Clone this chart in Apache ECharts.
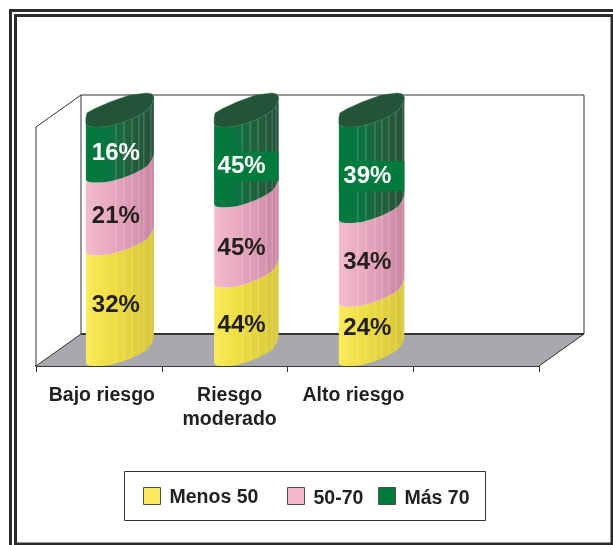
<!DOCTYPE html>
<html><head><meta charset="utf-8">
<style>html,body{margin:0;padding:0;background:#fff}#c{width:613px;height:545px}</style>
<script src="https://cdn.jsdelivr.net/npm/echarts@6/dist/echarts.min.js"></script>
</head><body><div id="c"></div>
<script>
const categories = ['Bajo riesgo', 'Riesgo\nmoderado', 'Alto riesgo', ''];
const menos50 = [32, 44, 24];
const entre50y70 = [21, 45, 34];
const mas70 = [16, 45, 39];
const seriesNames = ['Menos 50', '50-70', 'Más 70'];

const allValues = [menos50, entre50y70, mas70];
const FONT = '"Liberation Sans", Arial, sans-serif';
const DEPTH_X = 45, DEPTH_Y = -32;
const BAR_LEFT = [-13, -10.5, -11.5], BAR_W = [68, 64.5, 65.5], BASE_W = 68;
const curve = [[0,-3],[1,-1.5],[3,-.5],[7,0],[15,0],[24,-1],[35,-4],[46,-8],[56,-13],[62,-17],[66,-23],[68,-28]];
const capTop = [[68,-30],[66,-33],[61,-34],[44,-32],[24,-25],[8,-18],[1,-14],[0,-9]];
const ribs = [[30,38,46,53,58,65],[28,36,44,52,58,62],[19,27,36,43,50,57,64]];
const bandCats = [1, 2];
const labelNudge = [[-5,-2,-1],[-1,1,-1],[-8,-3,1]];
const fills = [
  [[0,'#fbeb5e'],[.4,'#eddc42'],[1,'#d6c63a']],
  [[0,'#f3bccd'],[.5,'#e3a2bb'],[1,'#c9859f']],
  [[0,'#007a3d'],[.35,'#0a7440'],[.55,'#1c663d'],[.85,'#23573a'],[1,'#24503a']]
];
const flat = ['#fbe95f', '#f2b8cb', '#007a3d'];

function curveY(dx) {
  for (let i = 1; i < curve.length; i++) {
    if (dx <= curve[i][0]) {
      const a = curve[i-1], b = curve[i];
      return a[1] + (b[1]-a[1]) * (dx-a[0]) / (b[0]-a[0]);
    }
  }
  return curve[curve.length-1][1];
}
function gradient(stops) {
  return {type:'linear',x:0,y:0,x2:1,y2:0,colorStops:stops.map(s=>({offset:s[0],color:s[1]}))};
}
function renderSection(sIdx) {
  return function(params, api) {
    const cat = api.value(0), val = api.value(1);
    const total = allValues.reduce((t,a)=>t+a[cat],0);
    let below = 0;
    for (let k = 0; k < sIdx; k++) below += allValues[k][cat];
    const pLow = api.coord([cat, below/total*100]);
    const pHigh = api.coord([cat, (below+val)/total*100]);
    const x0 = pLow[0] + BAR_LEFT[cat], y0 = pLow[1], y1 = pHigh[1];
    const sx = BAR_W[cat] / BASE_W;
    const pts = [];
    curve.forEach(c => pts.push([x0+c[0]*sx, y0+c[1]]));
    curve.slice().reverse().forEach(c => pts.push([x0+c[0]*sx, y1+c[1]]));
    const kids = [{type:'polygon',shape:{points:pts},style:{fill:gradient(fills[sIdx])}}];
    ribs[cat].forEach(r => {
      kids.push({type:'line',shape:{x1:x0+r,y1:y0+curveY(r/sx),x2:x0+r,y2:y1+curveY(r/sx)},
        style:{stroke:'rgba(255,255,255,0.25)',lineWidth:1}});
    });
    const midY = (y0+y1)/2;
    const ly = midY + labelNudge[cat][sIdx];
    if (sIdx === 2) {
      const cap = curve.map(c=>[x0+c[0]*sx, y1+c[1]]).concat(capTop.map(c=>[x0+c[0]*sx, y1+c[1]]));
      kids.push({type:'polygon',shape:{points:cap},style:{fill:'#225538',stroke:'#3a6e52',lineWidth:.5}});
      if (bandCats.includes(cat)) {
        kids.push({type:'rect',shape:{x:x0,y:ly-15,width:BAR_W[cat],height:30},style:{fill:'#007a3d'}});
      }
    }
    kids.push({type:'text',style:{text:val+'%',x:pLow[0]+17,y:ly,align:'center',verticalAlign:'middle',
      fill:sIdx===2?'#ffffff':'#231f20',font:'bold 24px '+FONT}});
    return {type:'group',children:kids};
  };
}
function renderPlanes(params) {
  const g = params.coordSys, l = g.x, r = g.x+g.width, t = g.y, b = g.y+g.height;
  const d = [DEPTH_X, DEPTH_Y], line = '#333', thin = 1;
  const seg = (a,c,d2,e,w) => ({type:'line',shape:{x1:a,y1:c,x2:d2,y2:e},style:{stroke:line,lineWidth:w||thin}});
  return {type:'group',children:[
    {type:'polygon',shape:{points:[[l,b],[r,b],[r+d[0],b+d[1]],[l+d[0],b+d[1]]]},style:{fill:'#a7a9ac'}},
    seg(l,t,l,b), seg(l,t,l+d[0],t+d[1]), seg(l,b,l+d[0],b+d[1]),
    seg(l+d[0],t+d[1],l+d[0],b+d[1]), seg(l+d[0],t+d[1],r+d[0],t+d[1]),
    seg(r+d[0],t+d[1],r+d[0],b+d[1]), seg(l+d[0],b+d[1],r+d[0],b+d[1],2), seg(r,b,r+d[0],b+d[1])
  ]};
}
const sectionSeries = seriesNames.map((name,i)=>({
  name, type:'custom', coordinateSystem:'cartesian2d', z:3, silent:true,
  itemStyle:{color:flat[i]},
  renderItem:renderSection(i),
  data:allValues[i].map((v,c)=>[c,v])
}));
const legendBase = {orient:'horizontal',itemWidth:17,itemHeight:17,itemGap:0,selectedMode:false,icon:'rect',
  padding:0,itemStyle:{borderColor:'#4d4d4d',borderWidth:1}};
const legendX = [143, 287, 378], legendY = [487, 487, 487], legendTextTop = [4, 6, 6];
const chart = echarts.init(document.getElementById('c'),null,{renderer:'canvas'});
chart.setOption({
  animation:false,
  backgroundColor:'#ffffff',
  grid:{left:36,right:74,top:127,height:239,containLabel:false},
  xAxis:{type:'category',
    data:categories.map((c,i)=> i===1 ? {value:c,textStyle:{padding:[0,0,0,10]}} : c),
    boundaryGap:true,
    axisLine:{lineStyle:{color:'#3a3a3a',width:2}},
    axisTick:{show:true,length:6,alignWithLabel:false,lineStyle:{color:'#333',width:1}},
    axisLabel:{interval:0,margin:18,padding:[0,0,0,6],fontFamily:FONT,fontWeight:'bold',fontSize:19.5,lineHeight:24,color:'#231f20',verticalAlign:'top'}},
  yAxis:{type:'value',min:0,max:100,show:false},
  legend:seriesNames.map((n,i)=>Object.assign({},legendBase,{data:[n],left:legendX[i],top:legendY[i],
    formatter:'{t|{name}}',
    textStyle:{rich:{t:{fontFamily:FONT,fontWeight:'bold',fontSize:19.5,color:'#231f20',padding:[legendTextTop[i],0,0,4]}}}})),
  graphic:[
    {type:'rect',z:0,silent:true,shape:{x:10.5,y:10.5,width:640,height:560},style:{fill:'none',stroke:'#2b2b2b',lineWidth:3}},
    {type:'rect',z:0,silent:true,shape:{x:15.5,y:15.5,width:596.5,height:528.5},style:{fill:'none',stroke:'#2b2b2b',lineWidth:3}},
    {type:'rect',z:0,silent:true,shape:{x:124.5,y:471.5,width:361,height:49},style:{fill:'#fff',stroke:'#333',lineWidth:1}}
  ],
  series:[{type:'custom',name:'planos',coordinateSystem:'cartesian2d',z:1,silent:true,renderItem:renderPlanes,data:[[0,0]]}].concat(sectionSeries)
});
</script></body></html>
